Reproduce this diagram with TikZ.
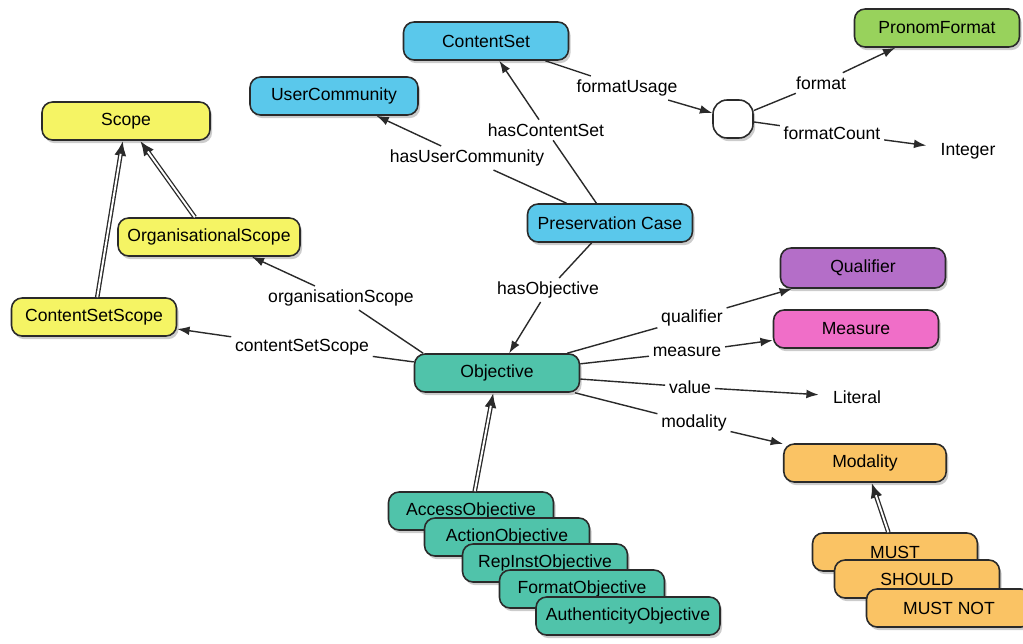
\documentclass[tikz,border=0pt]{standalone}
\usepackage{fontspec}
\setmainfont{Liberation Sans}
\usepackage{tikz}
\usetikzlibrary{arrows.meta,shadows}
\usepackage{xcolor}
\definecolor{caseblue}{HTML}{5AC8EB}
\definecolor{scopeyellow}{HTML}{F5F464}
\definecolor{objteal}{HTML}{50C3AA}
\definecolor{formatgreen}{HTML}{98D25C}
\definecolor{qualpurple}{HTML}{B46EC8}
\definecolor{measpink}{HTML}{F06EC8}
\definecolor{modalorange}{HTML}{FAC364}
\definecolor{edgegray}{HTML}{2A2A2A}

\begin{document}
\begin{tikzpicture}[x=0.02cm,y=-0.02cm]
        % Définition des styles
        \tikzset{
            class/.style={rectangle, rounded corners=6pt, draw=edgegray, line width=0.9pt,
                         minimum width=3.3cm, minimum height=0.76cm, inner sep=2pt,
                         font=\fontsize{10}{12}\selectfont,
                         drop shadow={opacity=0.4, shadow xshift=1.2pt, shadow yshift=-1.8pt}},
            rel/.style={-{Latex[length=7pt,width=5pt]}, line width=0.8pt, draw=edgegray},
            subclass/.style={-{Latex[length=8.5pt,width=7pt]}, line width=2.6pt, draw=edgegray,
                         postaction={draw=white, line width=1.1pt, arrows=-, shorten >=7.5pt}},
            lbl/.style={font=\fontsize{10}{12}\selectfont, inner sep=2pt},
            literal/.style={font=\fontsize{10}{12}\selectfont, inner sep=8pt}
        }
        \useasboundingbox (0,0) rectangle (1023,643);

        % Classes
        \node[class, fill=caseblue] (cset) at (486,41) {ContentSet};
        \node[class, fill=caseblue, minimum width=3.36cm] (ucom) at (334,96) {UserCommunity};
        \node[class, fill=caseblue] (pcase) at (610,223) {Preservation Case};
        \node[class, fill=scopeyellow, minimum width=3.36cm] (scope) at (126,121) {Scope};
        \node[class, fill=scopeyellow, minimum width=3.64cm] (orgscope) at (209,237) {OrganisationalScope};
        \node[class, fill=scopeyellow] (csscope) at (94,317) {ContentSetScope};
        \node[class, fill=objteal] (obj) at (497,373) {Objective};
        \node[class, fill=formatgreen] (pronom) at (937,28) {PronomFormat};
        \node[class, fill=white, minimum width=0.8cm, rounded corners=8pt] (blank) at (733,119) {};
        \node[literal] (integer) at (968,151) {Integer};
        \node[class, fill=qualpurple, minimum height=0.8cm] (qual) at (863,268) {Qualifier};
        \node[class, fill=measpink] (meas) at (856,329) {Measure};
        \node[literal] (literal) at (857,397) {Literal};
        \node[class, fill=modalorange, minimum width=3.25cm] (modal) at (865,463) {Modality};

        % Sous-classes de Objective
        \node[class, fill=objteal] (access) at (471,511) {AccessObjective};
        \node[class, fill=objteal] (action) at (507,537) {ActionObjective};
        \node[class, fill=objteal] (repinst) at (545,563) {RepInstObjective};
        \node[class, fill=objteal] (formatobj) at (582,589) {FormatObjective};
        \node[class, fill=objteal, minimum width=3.68cm] (authobj) at (628,616) {AuthenticityObjective};

        % Valeurs de Modality
        \node[class, fill=modalorange] (must) at (895,552) {MUST};
        \node[class, fill=modalorange] (should) at (917,579) {SHOULD};
        \node[class, fill=modalorange] (mustnot) at (949,608) {MUST NOT};

        % Étiquettes
        \node[lbl] (lformatusage) at (627,88) {formatUsage};
        \node[lbl] (lhascs) at (546,130) {hasContentSet};
        \node[lbl] (lhasuc) at (467,158) {hasUserCommunity};
        \node[lbl] (lformat) at (821,83) {format};
        \node[lbl] (lformatcount) at (832,133) {formatCount};
        \node[lbl] (lorgscope) at (341,298) {organisationScope};
        \node[lbl] (lcsscope) at (302,347) {contentSetScope};
        \node[lbl] (lhasobj) at (548,290) {hasObjective};
        \node[lbl] (lqual) at (692,318) {qualifier};
        \node[lbl] (lmeas) at (687,352) {measure};
        \node[lbl] (lvalue) at (690,387) {value};
        \node[lbl] (lmodal) at (694,423) {modality};

        % Connexions
        \draw[rel] (cset) -- (lformatusage) -- (blank);
        \draw[rel] (blank) -- (lformat) -- (pronom);
        \draw[rel] (blank) -- (lformatcount) -- (integer);
        \draw[rel] (pcase) -- (lhascs) -- (cset);
        \draw[rel] (pcase) -- (lhasuc) -- (ucom);
        \draw[rel] (pcase) -- (lhasobj) -- (obj);
        \draw[rel] (obj.165) -- (lorgscope) -- (orgscope);
        \draw[rel] (obj) -- (lcsscope) -- (csscope);
        \draw[rel] (obj) -- (lqual) -- (qual);
        \draw[rel] (obj) -- (lmeas) -- (meas);
        \draw[rel] (obj) -- (lvalue) -- (literal);
        \draw[rel] (obj) -- (lmodal) -- (modal);

        % Héritage
        \draw[subclass] (orgscope) -- (scope);
        \draw[subclass] (csscope) -- (scope);
        \draw[subclass] (access) -- (obj);
        \draw[subclass] (must) -- (modal);
    \end{tikzpicture}
\end{document}
